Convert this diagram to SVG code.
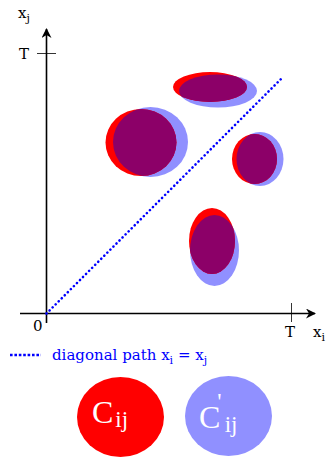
<svg xmlns="http://www.w3.org/2000/svg" width="327" height="457" viewBox="0 0 327 457">
<style>
.t{font-family:"DejaVu Serif","Liberation Serif",serif;fill:#000}
.lt{font-family:"DejaVu Serif","Liberation Serif",serif;fill:#0000ff}
.red{fill:#ff0000}
.blue{fill:#9090ff}
.pur{fill:#8c0068}
.ax{stroke:#000;stroke-width:1.6;fill:none}
.diag{stroke:#0000ff;stroke-width:2.6;stroke-dasharray:0.1 4.2;stroke-linecap:round;fill:none}
.leg{stroke:#0000ff;stroke-width:2.6;stroke-dasharray:2.6 1.8;fill:none}
.w{font-family:"Liberation Serif","Times New Roman",serif;fill:#fff}
</style>
<defs>
<marker id="ah" viewBox="0 0 10 10" refX="9" refY="5" markerWidth="10" markerHeight="10" markerUnits="userSpaceOnUse" orient="auto">
<path d="M0,0 L10,5 L0,10 L3,5 Z" fill="#000"/>
</marker>
<clipPath id="c1"><ellipse cx="218" cy="91" rx="39" ry="16.5"/></clipPath>
<clipPath id="c2"><ellipse cx="150.5" cy="142" rx="37.5" ry="35"/></clipPath>
<clipPath id="c3"><ellipse cx="260" cy="159" rx="23.5" ry="27"/></clipPath>
<clipPath id="c4"><ellipse cx="214.5" cy="250.5" rx="24.5" ry="35.5"/></clipPath>
</defs>
<g id="axes">
<line class="ax" x1="46.5" y1="323" x2="46.5" y2="29" marker-end="url(#ah)"/>
<line class="ax" x1="20" y1="313.5" x2="315" y2="313.5" marker-end="url(#ah)"/>
<line x1="37" y1="53.5" x2="56" y2="53.5" stroke="#000" stroke-width="0.8"/>
<line x1="291.5" y1="303" x2="291.5" y2="322" stroke="#000" stroke-width="0.8"/>
<text class="t" x="18" y="18" font-size="15">x<tspan font-size="11" dy="4">j</tspan></text>
<text class="t" x="19" y="58.5" font-size="15">T</text>
<text class="t" x="33" y="331" font-size="15">0</text>
<text class="t" x="285" y="337" font-size="15">T</text>
<text class="t" x="313" y="337" font-size="15">x<tspan font-size="11" dy="4">i</tspan></text>
</g>
<g id="connectors">
<line class="diag" x1="46.5" y1="313.5" x2="282" y2="78"/>
</g>
<g id="e1">
<ellipse class="blue" cx="218" cy="91" rx="39" ry="16.5"/>
<ellipse class="red" cx="210" cy="87" rx="37" ry="15"/>
<ellipse class="pur" cx="210" cy="87" rx="37" ry="15" clip-path="url(#c1)"/>
</g>
<g id="e2">
<ellipse class="blue" cx="150.5" cy="142" rx="37.5" ry="35"/>
<ellipse class="red" cx="141" cy="142.5" rx="35.5" ry="33.5"/>
<ellipse class="pur" cx="141" cy="142.5" rx="35.5" ry="33.5" clip-path="url(#c2)"/>
</g>
<g id="e3">
<ellipse class="blue" cx="260" cy="159" rx="23.5" ry="27"/>
<ellipse class="red" cx="254.5" cy="159" rx="22.5" ry="25"/>
<ellipse class="pur" cx="254.5" cy="159" rx="22.5" ry="25" clip-path="url(#c3)"/>
</g>
<g id="e4">
<ellipse class="blue" cx="214.5" cy="250.5" rx="24.5" ry="35.5"/>
<ellipse class="red" cx="212" cy="241" rx="23" ry="33"/>
<ellipse class="pur" cx="212" cy="241" rx="23" ry="33" clip-path="url(#c4)"/>
</g>
<g id="legend">
<line class="leg" x1="10" y1="355" x2="41" y2="355"/>
<text class="lt" x="52" y="360" font-size="15">diagonal path x<tspan font-size="11" dy="4">i</tspan><tspan dy="-4"> = x</tspan><tspan font-size="11" dy="4">j</tspan></text>
</g>
<g id="Cij">
<ellipse class="red" cx="120.5" cy="417" rx="43.5" ry="40"/>
<text class="w" x="92" y="423" font-size="32">C<tspan font-size="23" dx="2" dy="4">ij</tspan></text>
</g>
<g id="Cpij">
<ellipse class="blue" cx="228.5" cy="416" rx="43.5" ry="40"/>
<text class="w" x="199" y="428" font-size="32">C<tspan font-size="24" dx="-3" dy="-19">'</tspan><tspan font-size="23" dx="3" dy="23">ij</tspan></text>
</g>
</svg>
